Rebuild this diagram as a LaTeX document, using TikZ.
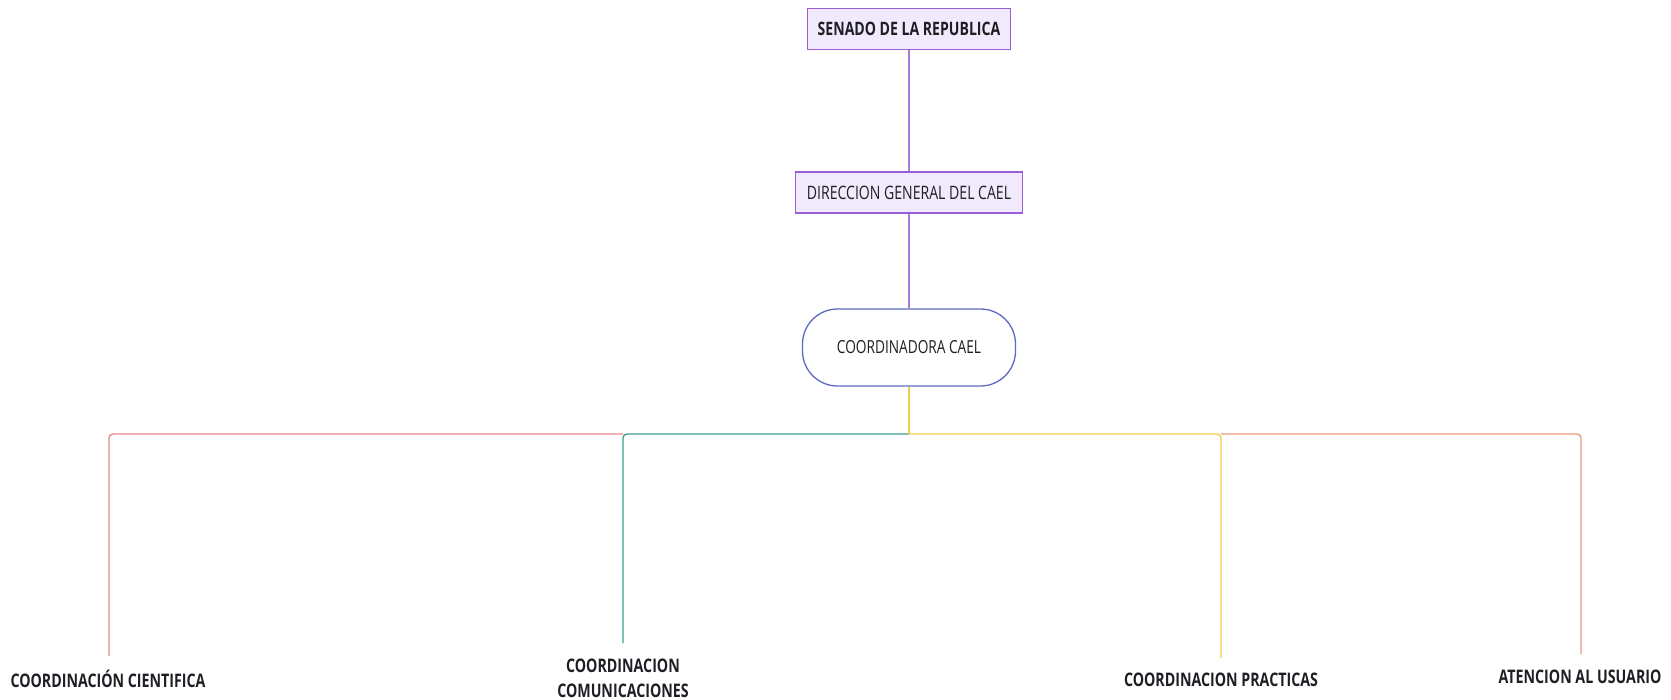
\documentclass[tikz,border=0pt]{standalone}
\usepackage{fontspec}
\setmainfont{Open Sans}[FakeStretch=0.76]
\definecolor{boxfill}{HTML}{F1E9FC}
\definecolor{boxline}{HTML}{9A5FD8}
\definecolor{purpline}{HTML}{A77BD6}
\definecolor{blueline}{HTML}{5E6AC0}
\definecolor{redline}{HTML}{E8868C}
\definecolor{tealline}{HTML}{3C9C90}
\definecolor{yellowline}{HTML}{F4CC4A}
\definecolor{orangeline}{HTML}{EE9A78}
\definecolor{txt}{HTML}{1E1E24}
\begin{document}
\begin{tikzpicture}[x=1pt,y=-1pt,
  topbox/.style={draw=boxline, fill=boxfill, line width=1.8pt, inner sep=0pt, text=txt, font=\fontsize{18.5}{20}\selectfont},
  coordbox/.style={draw=blueline, fill=white, line width=1.3pt, rounded corners=35pt, inner sep=0pt, minimum width=213pt, minimum height=77pt, text=txt, font=\fontsize{18}{20}\selectfont},
  lbl/.style={text=txt, font=\fontsize{18.7}{25}\selectfont\bfseries, inner sep=0pt, align=center},
  conn/.style={line width=1.4pt, rounded corners=4pt},
  vline/.style={draw=purpline, line width=1.8pt}
]
\useasboundingbox (0,0) rectangle (1671,699);
\node[topbox, minimum width=203pt, minimum height=41pt] (senado) at (909,29) {\bfseries SENADO DE LA REPUBLICA};
\node[topbox, minimum width=227pt, minimum height=41pt] (dir) at (909,192.5) {DIRECCION GENERAL DEL CAEL};
\node[coordbox] (coord) at (909,347.5) {COORDINADORA CAEL};

\node[lbl] (cient) at (108,679) {COORDINACIÓN CIENTIFICA};
\node[lbl] (comu) at (623,678) {COORDINACION\\COMUNICACIONES};
\node[lbl] (prac) at (1221,680) {COORDINACION PRACTICAS};
\node[lbl] (aten) at (1580,677) {ATENCION AL USUARIO};

\coordinate (bus) at (909,434);
\coordinate (jt) at (623,434);
\coordinate (jp) at (1221,434);
\coordinate (cientend) at (109,656);
\coordinate (comuend) at (623,643);
\coordinate (pracend) at (1221,658);
\coordinate (atenend) at (1581,654);

\draw[vline] (senado.south) -- (dir.north);
\draw[vline] (dir.south) -- (coord.north);
\draw[conn, draw=redline] (jt) -| (cientend);
\draw[conn, draw=orangeline] (jp) -| (atenend);
\draw[conn, draw=tealline] (bus) -| (comuend);
\draw[conn, draw=yellowline] (bus) -| (pracend);
\draw[conn, draw=yellowline] (coord.south) -- (bus);
\end{tikzpicture}
\end{document}
